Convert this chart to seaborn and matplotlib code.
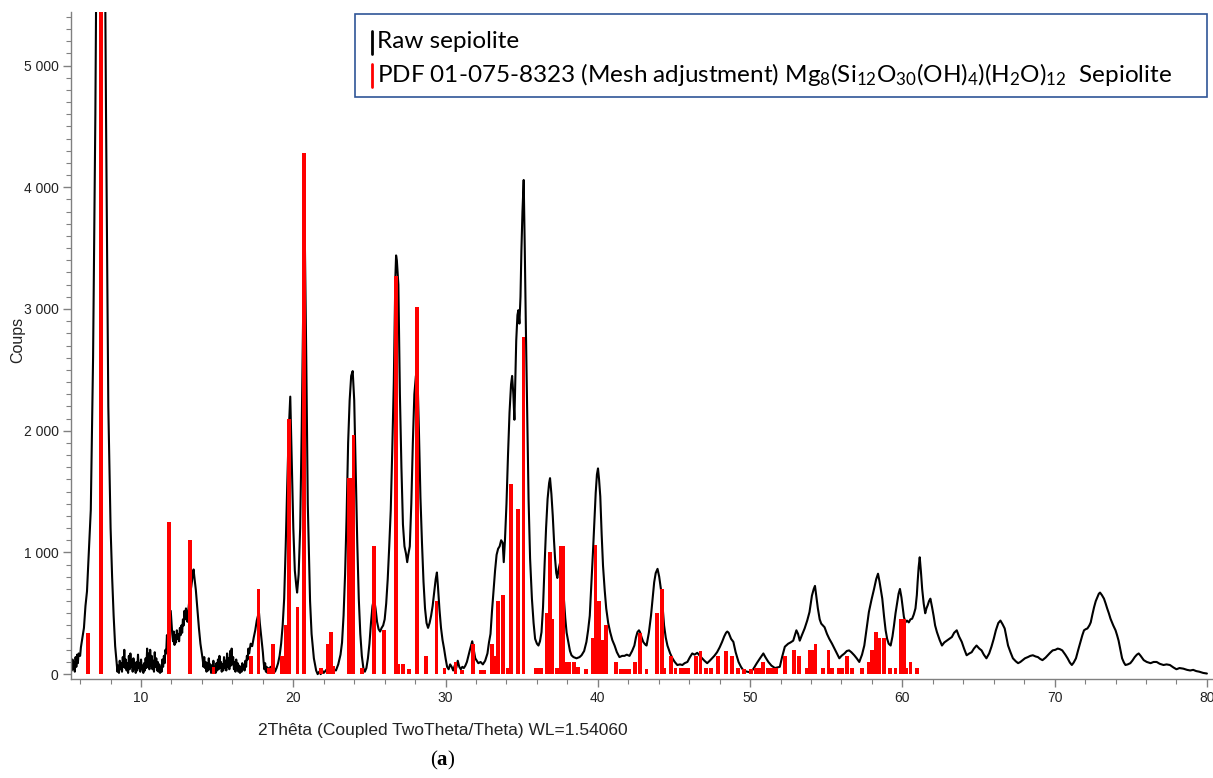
import seaborn as sns
import matplotlib.pyplot as plt
import matplotlib.ticker as mticker
from matplotlib.patches import Rectangle
from matplotlib.lines import Line2D

# ── raw pattern (2theta, counts) ──
two_theta = [
    5.45, 5.5, 5.55, 5.6, 5.65, 5.7, 5.75, 5.8, 5.85, 5.9, 6.0, 6.05, 6.15, 6.25, 6.35, 6.45, 6.55, 6.7, 6.85,
    7.0, 7.15, 7.35, 7.55, 7.7, 7.85, 8.0, 8.1, 8.2, 8.3, 8.4, 8.45,
    8.5, 8.55, 8.6, 8.65, 8.7, 8.75, 8.8, 8.85, 8.9, 8.95, 9.0, 9.05, 9.1, 9.15, 9.2, 9.25, 9.3, 9.35, 9.4, 9.45,
    9.5, 9.55, 9.6, 9.65, 9.7, 9.75, 9.8, 9.85, 9.9, 9.95, 10.0, 10.05, 10.1, 10.15, 10.2, 10.25, 10.3, 10.35,
    10.4, 10.45, 10.5, 10.55, 10.6, 10.65, 10.7, 10.75, 10.8, 10.85, 10.9, 10.95, 11.0, 11.05, 11.1, 11.15,
    11.2, 11.25, 11.3, 11.35, 11.4, 11.45, 11.5, 11.55, 11.6, 11.65, 11.7, 11.75, 11.8, 11.85, 11.95, 12.0,
    12.05, 12.1, 12.15, 12.2, 12.25, 12.3, 12.35, 12.4, 12.45, 12.5, 12.55, 12.6, 12.65, 12.7, 12.75, 12.8,
    12.85, 12.9, 12.95, 13.0, 13.05, 13.1, 13.2, 13.3, 13.4, 13.45, 13.5, 13.6, 13.7, 13.8, 13.9, 14.0, 14.05,
    14.1, 14.15, 14.2, 14.25, 14.3, 14.35, 14.4, 14.45, 14.5, 14.55, 14.6, 14.65, 14.7, 14.75, 14.8, 14.85,
    14.9, 14.95, 15.0, 15.05, 15.1, 15.15, 15.2, 15.25, 15.3, 15.35, 15.4, 15.45, 15.5, 15.55, 15.6, 15.65,
    15.7, 15.75, 15.8, 15.85, 15.9, 15.95, 16.0, 16.05, 16.1, 16.15, 16.2, 16.25, 16.3, 16.35, 16.4, 16.45,
    16.5, 16.55, 16.6, 16.65, 16.7, 16.75, 16.8, 16.85, 16.9, 16.95, 17.0, 17.05, 17.1, 17.2, 17.3, 17.4,
    17.5, 17.6, 17.7, 17.75, 17.8, 17.9, 18.0, 18.05, 18.1, 18.15, 18.2, 18.25, 18.3, 18.35, 18.4, 18.5,
    18.6, 18.7, 18.8, 18.9, 19.0, 19.1, 19.2, 19.3, 19.4, 19.5, 19.6, 19.7, 19.8, 19.9, 20.0, 20.1, 20.2,
    20.25, 20.35, 20.45, 20.55, 20.65, 20.75, 20.85, 20.95, 21.1, 21.2, 21.35, 21.5, 21.6, 21.7, 21.8, 21.9,
    22.0, 22.2, 22.4, 22.6, 22.8, 22.95, 23.1, 23.2, 23.3, 23.4, 23.5, 23.6, 23.7, 23.8, 23.9, 24.0, 24.1,
    24.2, 24.3, 24.4, 24.5, 24.6, 24.7, 24.8, 24.9, 25.0, 25.1, 25.2, 25.3, 25.4, 25.5, 25.6, 25.7, 25.8,
    25.9, 26.0, 26.1, 26.2, 26.3, 26.4, 26.5, 26.6, 26.7, 26.75, 26.8, 26.9, 27.0, 27.1, 27.2, 27.3, 27.4,
    27.48, 27.55, 27.65, 27.75, 27.85, 27.95, 28.05, 28.15, 28.25, 28.35, 28.45, 28.55, 28.65, 28.75, 28.85,
    28.95, 29.05, 29.15, 29.25, 29.35, 29.43, 29.5, 29.6, 29.7, 29.8, 29.9, 30.0, 30.1, 30.2, 30.3, 30.4,
    30.5, 30.6, 30.7, 30.8, 30.9, 31.0, 31.1, 31.2, 31.3, 31.4, 31.5, 31.6, 31.75, 31.85, 31.95, 32.05,
    32.15, 32.3, 32.45, 32.6, 32.75, 32.85, 32.95, 33.05, 33.15, 33.25, 33.35, 33.45, 33.55, 33.65, 33.75,
    33.82, 33.9, 34.0, 34.1, 34.2, 34.3, 34.37, 34.45, 34.52, 34.58, 34.64, 34.72, 34.78, 34.85, 34.92,
    34.98, 35.05, 35.13, 35.2, 35.28, 35.37, 35.45, 35.55, 35.67, 35.78, 35.88, 36.0, 36.1, 36.2, 36.3,
    36.4, 36.5, 36.6, 36.7, 36.8, 36.86, 36.95, 37.04, 37.12, 37.19, 37.27, 37.34, 37.42, 37.51, 37.6,
    37.69, 37.78, 37.86, 37.95, 38.06, 38.17, 38.27, 38.4, 38.6, 38.8, 38.93, 39.1, 39.25, 39.36, 39.47,
    39.58, 39.69, 39.78, 39.86, 39.94, 40.01, 40.08, 40.16, 40.25, 40.34, 40.45, 40.55, 40.68, 40.81, 40.95,
    41.1, 41.25, 41.42, 41.6, 41.75, 41.9, 42.08, 42.25, 42.4, 42.5, 42.6, 42.7, 42.77, 42.88, 42.98, 43.1,
    43.2, 43.35, 43.49, 43.6, 43.7, 43.8, 43.92, 44.03, 44.14, 44.25, 44.35, 44.46, 44.57, 44.75, 44.9,
    45.05, 45.22, 45.4, 45.55, 45.7, 45.88, 46.05, 46.2, 46.35, 46.53, 46.7, 46.85, 47.0, 47.18, 47.35,
    47.5, 47.65, 47.83, 48.0, 48.16, 48.3, 48.42, 48.5, 48.59, 48.75, 48.9, 49.05, 49.24, 49.4, 49.56,
    49.8, 50.0, 50.2, 50.44, 50.65, 50.87, 51.0, 51.2, 51.4, 51.63, 51.8, 51.95, 52.1, 52.28, 52.5, 52.65,
    52.83, 53.04, 53.15, 53.26, 53.4, 53.58, 53.75, 53.9, 54.06, 54.18, 54.26, 54.35, 54.45, 54.57, 54.67,
    54.78, 54.89, 55.05, 55.2, 55.38, 55.54, 55.7, 55.86, 56.0, 56.2, 56.35, 56.5, 56.65, 56.84, 57.0,
    57.17, 57.35, 57.5, 57.65, 57.8, 57.97, 58.14, 58.28, 58.4, 58.5, 58.6, 58.68, 58.8, 58.9, 59.0, 59.1,
    59.23, 59.35, 59.45, 59.55, 59.66, 59.75, 59.84, 59.94, 60.03, 60.1, 60.2, 60.3, 60.42, 60.53, 60.64,
    60.75, 60.86, 60.95, 61.0, 61.07, 61.14, 61.22, 61.3, 61.4, 61.5, 61.58, 61.66, 61.75, 61.84, 61.95,
    62.05, 62.15, 62.27, 62.45, 62.6, 62.75, 62.92, 63.1, 63.25, 63.4, 63.57, 63.72, 63.9, 64.05, 64.22,
    64.4, 64.55, 64.7, 64.87, 65.05, 65.2, 65.35, 65.52, 65.7, 65.85, 66.0, 66.14, 66.3, 66.44, 66.58,
    66.72, 66.84, 66.94, 67.1, 67.26, 67.45, 67.6, 67.75, 67.9, 68.05, 68.24, 68.4, 68.57, 68.75, 68.9,
    69.05, 69.2, 69.4, 69.55, 69.7, 69.87, 70.05, 70.2, 70.35, 70.5, 70.7, 70.85, 71.0, 71.13, 71.25, 71.4,
    71.55, 71.7, 71.82, 71.93, 72.05, 72.15, 72.28, 72.37, 72.48, 72.59, 72.7, 72.8, 72.9, 72.98, 73.1,
    73.24, 73.35, 73.45, 73.56, 73.67, 73.85, 74.0, 74.1, 74.2, 74.32, 74.43, 74.55, 74.65, 74.8, 74.97,
    75.1, 75.26, 75.4, 75.52, 75.65, 75.85, 76.05, 76.3, 76.5, 76.7, 76.9, 77.15, 77.35, 77.57, 77.8, 78.0,
    78.2, 78.45, 78.7, 78.9, 79.1, 79.3, 79.5, 79.75, 80.0,
]
counts = [
    30, 120, 40, 100, 20, 140, 60, 160, 90, 170, 150, 220, 300, 380, 560, 680, 950, 1350, 2600,
    4600, 7500, 9800, 7500, 4600, 2200, 1200, 800, 480, 230, 90, 20,
    70, 10, 110, 40, 90, 20, 140, 60, 200, 50, 120, 30, 90, 10, 150, 40, 170, 60, 110, 20,
    130, 40, 80, 10, 100, 30, 160, 50, 90, 20, 120, 40, 70, 10, 90, 30, 130, 50,
    210, 60, 170, 40, 200, 70, 150, 40, 110, 20, 180, 60, 130, 30, 100, 20,
    80, 10, 60, 20, 120, 60, 150, 90, 200, 170, 320, 260, 420, 380, 520, 420,
    330, 270, 350, 240, 320, 260, 360, 290, 330, 270, 380, 320, 400, 340, 450, 400,
    520, 450, 540, 470, 430, 520, 640, 720, 820, 860, 800, 690, 530, 380, 250, 160, 120,
    60, 140, 50, 100, 20, 90, 30, 130, 40, 80, 10, 70, 20, 110, 30, 60,
    10, 90, 30, 120, 40, 150, 50, 100, 20, 80, 30, 140, 50, 110, 30, 170,
    60, 130, 40, 190, 70, 210, 80, 140, 40, 100, 20, 120, 50, 90, 20, 70,
    10, 60, 20, 90, 40, 70, 30, 110, 60, 150, 120, 210, 170, 250, 230, 300,
    360, 440, 490, 500, 420, 300, 180, 100, 40, 90, 20, 60, 10, 50, 20, 60,
    30, 70, 20, 50, 90, 150, 250, 400, 620, 1050, 1550, 2000, 2280, 1750, 1200, 850, 720,
    670, 820, 1200, 2000, 3000, 3650, 2600, 1400, 600, 330, 130, 30, 0, 20, 0, 30,
    10, 40, 20, 40, 30, 80, 160, 260, 480, 820, 1300, 1900, 2250, 2450, 2490, 2250, 1650,
    1080, 620, 330, 150, 50, 20, 50, 130, 250, 420, 560, 620, 540, 430, 370, 350, 380,
    400, 450, 580, 780, 1050, 1350, 1850, 2400, 3250, 3440, 3400, 3200, 2300, 1700, 1230, 1050, 990,
    920, 980, 1050, 1400, 1900, 2300, 2450, 2480, 2000, 1450, 1080, 760, 540, 420, 380,
    420, 480, 560, 670, 780, 835, 720, 530, 380, 280, 210, 130, 60, 40, 80, 60,
    30, 70, 50, 110, 60, 40, 60, 50, 70, 100, 150, 200, 270, 200, 130, 110,
    90, 100, 80, 110, 170, 260, 330, 520, 680, 850, 980, 1030, 1050, 1100, 1080,
    920, 1100, 1400, 1800, 2150, 2380, 2450, 2300, 2090, 2400, 2740, 2950, 2990, 2880, 3100,
    3480, 3800, 4060, 3500, 2790, 2100, 1440, 950, 620, 420, 290, 250, 235, 270, 345,
    550, 890, 1200, 1440, 1570, 1610, 1480, 1300, 1100, 950, 830, 790, 860, 910, 850,
    760, 600, 460, 340, 265, 190, 155, 140, 130, 140, 155, 190, 265, 360, 480,
    750, 1030, 1270, 1490, 1640, 1690, 1600, 1460, 1150, 890, 690, 540, 420, 345, 280,
    235, 180, 140, 150, 150, 160, 150, 190, 235, 300, 345, 360, 345, 300, 265, 245,
    235, 340, 480, 620, 755, 830, 865, 800, 700, 560, 400, 300, 235, 170, 130,
    100, 75, 80, 75, 90, 100, 140, 170, 160, 175, 150, 130, 110, 90, 110,
    130, 150, 180, 220, 265, 310, 340, 350, 340, 290, 265, 180, 100, 60, 30,
    20, 15, 40, 90, 130, 170, 140, 100, 70, 50, 55, 60, 140, 225, 250, 260,
    275, 360, 330, 275, 320, 375, 440, 510, 645, 700, 725, 640, 540, 450, 415,
    400, 385, 330, 290, 250, 210, 170, 130, 150, 170, 190, 195, 180, 155, 130,
    100, 160, 235, 370, 510, 610, 700, 780, 825, 760, 680, 620, 470, 360, 290, 250,
    235, 310, 400, 500, 590, 660, 700, 630, 540, 470, 425, 440, 425, 450, 455,
    490, 540, 650, 755, 880, 960, 840, 700, 580, 500, 540, 565, 600, 620, 550,
    480, 400, 345, 280, 235, 260, 275, 290, 305, 340, 360, 310, 265, 210, 155,
    170, 180, 210, 235, 210, 195, 160, 130, 170, 225, 290, 360, 420, 440, 410,
    375, 300, 235, 180, 130, 105, 90, 100, 115, 130, 140, 150, 155, 145, 140,
    125, 115, 135, 155, 175, 195, 200, 210, 205, 195, 160, 130, 95, 75, 95, 130,
    200, 265, 320, 360, 370, 375, 400, 425, 490, 550, 600, 630, 660, 670, 650,
    620, 580, 540, 500, 455, 400, 360, 320, 275, 200, 130, 95, 75, 80, 90,
    110, 140, 160, 170, 150, 115, 100, 90, 100, 100, 85, 75, 80, 75, 55, 40,
    50, 45, 35, 30, 35, 25, 20, 10, 5,
]

# ── reference pattern PDF 01-075-8323 (stick positions, intensities) ──
pdf_pos = [
    6.5, 7.35, 11.85, 13.22, 14.76, 17.2, 17.72, 18.4, 18.5, 18.67, 19.25, 19.5, 19.7, 20.27, 20.72,
    21.8, 22.25, 22.45, 22.6, 23.65, 23.8, 23.95, 24.5, 25.3, 25.95, 26.75, 26.9, 27.2, 27.6, 28.1,
    28.7, 29.4, 29.93, 30.65, 31.1, 31.78, 32.3, 32.5, 33.06, 33.28, 33.45, 33.75, 34.08, 34.3, 34.73,
    35.12, 35.95, 36.1, 36.25, 36.65, 36.85, 37.0, 37.3, 37.55, 37.7, 38.0, 38.1, 38.45, 38.7, 39.2,
    39.7, 39.85, 40.1, 40.3, 40.55, 41.2, 41.5, 41.8, 42.06, 42.44, 42.77, 43.2, 43.88, 44.2, 44.35,
    44.8, 45.1, 45.45, 45.7, 45.95, 46.46, 46.74, 47.1, 47.45, 47.9, 48.4, 48.8, 49.2, 49.6, 50.06,
    50.35, 50.6, 50.85, 51.2, 51.45, 51.7, 52.3, 52.87, 53.2, 53.7, 53.95, 54.15, 54.3, 54.8, 55.15,
    55.4, 55.8, 56.06, 56.36, 56.7, 57.36, 57.8, 58.0, 58.25, 58.5, 58.8, 59.2, 59.55, 59.88, 60.1,
    60.27, 60.53, 60.95,
]
pdf_int = [
    340, 9000, 1250, 1100, 55, 150, 700, 50, 50, 250, 150, 400, 2100, 550, 4280,
    50, 250, 350, 70, 1610, 1610, 1965, 50, 1050, 360, 3270, 80, 80, 40, 3020,
    150, 600, 50, 100, 35, 250, 30, 30, 250, 150, 600, 650, 50, 1560, 1355,
    2770, 50, 50, 50, 505, 1000, 450, 50, 1050, 1050, 100, 100, 100, 60, 40,
    300, 1060, 600, 280, 400, 100, 40, 40, 40, 100, 340, 40, 500, 700, 50,
    150, 50, 50, 50, 50, 150, 190, 50, 50, 150, 190, 150, 50, 40, 40,
    50, 50, 100, 50, 50, 50, 150, 200, 150, 50, 200, 200, 250, 50, 200,
    50, 50, 50, 150, 50, 50, 100, 200, 350, 300, 300, 50, 50, 450, 450,
    50, 100, 50,
]

legend_labels = [
    'Raw sepiolite',
    r'PDF 01-075-8323 (Mesh adjustment) Mg$_8$(Si$_{12}$O$_{30}$(OH)$_4$)(H$_2$O)$_{12}$  Sepiolite',
]

sns.set_style('ticks')
plt.rcParams['font.family'] = ['Liberation Sans', 'DejaVu Sans']
plt.rcParams['mathtext.fontset'] = 'custom'
plt.rcParams['mathtext.rm'] = 'Lato'
plt.rcParams['mathtext.bf'] = 'Liberation Serif:bold'
plt.rcParams['mathtext.default'] = 'regular'

W, H = 1213, 778
fig = plt.figure(figsize=(W / 100, H / 100), dpi=100)
ax = fig.add_axes([71 / W, 1 - 679 / H, 1 - 71 / W, (679 - 12) / H])

sns.lineplot(x=two_theta, y=counts, color='black', lw=1.5, estimator=None, sort=False, ax=ax, zorder=2)
ax.bar(pdf_pos, pdf_int, width=0.25, color='#ff0000', linewidth=0, zorder=3)

ax.set_xlim(5.4, 80.4)
ax.set_ylim(-40, 5440)
ax.xaxis.set_major_locator(mticker.MultipleLocator(10))
ax.xaxis.set_minor_locator(mticker.MultipleLocator(2))
ax.yaxis.set_major_locator(mticker.MultipleLocator(1000))
ax.yaxis.set_minor_locator(mticker.MultipleLocator(100))
ax.yaxis.set_major_formatter(mticker.FuncFormatter(lambda v, p: f'{int(v):,}'.replace(',', ' ')))

for s in ['top', 'right']:
    ax.spines[s].set_visible(False)
for s in ['left', 'bottom']:
    ax.spines[s].set_color('#808080')
    ax.spines[s].set_linewidth(1.0)
ax.tick_params(which='major', length=6, width=1, color='#808080', labelsize=10, labelcolor='#222222', pad=3)
ax.tick_params(which='minor', length=3.5, width=0.8, color='#808080')
ax.set_xlabel('')
ax.set_ylabel('')

fig.text(18 / W, 1 - 340 / H, 'Coups', rotation=90, ha='center', va='center', fontsize=11.5, color='#222222')
fig.text(443 / W, 1 - 731 / H, '2Thêta (Coupled TwoTheta/Theta) WL=1.54060',
         ha='center', va='center', fontsize=12.5, color='#222222')
fig.text(443 / W, 1 - 760 / H, r'($\mathbf{a}$)', ha='center', va='center', fontsize=15,
         family='Liberation Serif', color='black')

# legend box
fig.patches.append(Rectangle((355 / W, 1 - 97 / H), 852 / W, 83 / H, transform=fig.transFigure,
                             facecolor='white', edgecolor='#2f5597', lw=1.2, zorder=10))
for (yc, col, lab) in [(42, 'black', legend_labels[0]), (75, '#ff0000', legend_labels[1])]:
    fig.lines.append(Line2D([372 / W, 372 / W], [1 - (yc - 11) / H, 1 - (yc + 12) / H],
                            transform=fig.transFigure, color=col, lw=2, zorder=11))
    fig.text(377 / W, 1 - yc / H, lab, ha='left', va='center', fontsize=17.5,
             family=['Lato', 'DejaVu Sans'], color='black', zorder=11)

plt.savefig('out.png', dpi=100)
